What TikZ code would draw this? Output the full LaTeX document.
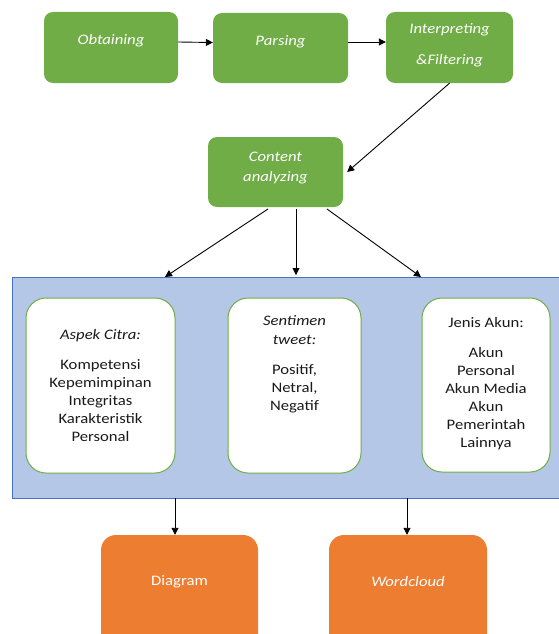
\documentclass[tikz,border=0pt]{standalone}
\usepackage{fontspec}
\setmainfont{Carlito}[FakeStretch=1.15]
\usetikzlibrary{arrows.meta}
\definecolor{gfill}{HTML}{70AD47}
\definecolor{bfill}{HTML}{B4C7E7}
\definecolor{bline}{HTML}{4472C4}
\definecolor{ofill}{HTML}{ED7D31}
\definecolor{txt}{HTML}{1A1A1A}
\tikzset{
  greenbox/.style={fill=gfill, draw=none, rounded corners=9pt, inner sep=0pt},
  orangebox/.style={fill=ofill, draw=none, rounded corners=15pt, inner sep=0pt},
  whitebox/.style={fill=white, draw=gfill, line width=1pt, rounded corners=20pt, inner sep=0pt},
  panel/.style={fill=bfill, draw=bline, line width=1pt, inner sep=0pt},
  gtext/.style={text=white, font=\fontsize{14.5}{18}\selectfont\itshape, align=center, inner sep=0pt},
  otext/.style={text=white, font=\fontsize{14.5}{18}\selectfont, align=center, inner sep=0pt},
  ttext/.style={text=txt, font=\fontsize{14.5}{18}\selectfont\itshape, align=center, inner sep=0pt},
  ltext/.style={text=txt, font=\fontsize{14.5}{18}\selectfont, align=center, inner sep=0pt},
  arr/.style={draw=black, line width=0.9pt, -{Triangle[length=7pt,width=7pt]}}
}
\begin{document}
\begin{tikzpicture}[x=1pt,y=-1pt]
\useasboundingbox (0,0) rectangle (558,634);
% top row
\node[greenbox, minimum width=134pt, minimum height=71pt] (obt) at (111,47.5) {};
\node[greenbox, minimum width=135pt, minimum height=70pt] (par) at (280.5,48) {};
\node[greenbox, minimum width=127pt, minimum height=71pt] (int) at (449.5,47.5) {};
\node[greenbox, minimum width=135pt, minimum height=70pt] (con) at (275.5,172) {};
\node[gtext] (tobt) at (111,41) {Obtaining};
\node[gtext] (tpar) at (280.5,42) {Parsing};
\node[gtext] (tint1) at (449.5,30) {Interpreting};
\node[gtext] (tint2) at (449.5,61) {\&Filtering};
\node[gtext] (tcon1) at (275.5,157) {Content};
\node[gtext] (tcon2) at (275.5,178) {analyzing};
% panel
\node[panel, minimum width=560pt, minimum height=221pt] (pan) at (292,387.5) {};
\node[whitebox, minimum width=149pt, minimum height=175pt] (b1) at (100.5,385.5) {};
\node[whitebox, minimum width=133pt, minimum height=175pt] (b2) at (294.5,385.5) {};
\node[whitebox, minimum width=128pt, minimum height=174pt] (b3) at (486,385) {};
\node[ttext] (t1) at (100.5,336) {Aspek Citra:};
\node[ltext] (l1) at (100.5,401) {Kompetensi\\Kepemimpinan\\Integritas\\Karakteristik\\Personal};
\node[ttext] (t2) at (294.5,330.5) {Sentimen\\[1pt]tweet:};
\node[ltext] (l2) at (294.5,389) {Positif,\\Netral,\\Negatif};
\node[ltext] (t3) at (486,323) {Jenis Akun:};
\node[ltext] (l3) at (486,399) {Akun\\Personal\\Akun Media\\Akun\\Pemerintah\\Lainnya};
% outputs
\node[orangebox, minimum width=157pt, minimum height=125pt] (dia) at (179.5,597.5) {};
\node[orangebox, minimum width=158pt, minimum height=125pt] (wc) at (408,597.5) {};
\node[otext] (tdia) at (179.5,582) {Diagram};
\node[gtext] (twc) at (408,582) {Wordcloud};
% coordinates for connector ends
\coordinate (c1s) at (268,209);
\coordinate (c2s) at (296,209);
\coordinate (c3s) at (327,209);
\coordinate (c1e) at (165,277);
\coordinate (c2e) at (296,275);
\coordinate (c3e) at (421,277);
\coordinate (pd) at (175,498);
\coordinate (pw) at (407,498);
% connectors
\draw[arr] ([yshift=5.5pt]obt.east) -- ([yshift=5.5pt]par.west);
\draw[arr] ([yshift=6pt]par.east) -- ([yshift=5.5pt]int.west);
\draw[arr] (int.south) -- ([xshift=4pt]con.east);
\draw[arr] (c1s) -- (c1e);
\draw[arr] (c2s) -- (c2e);
\draw[arr] (c3s) -- (c3e);
\draw[arr] (pd) -- (pd |- dia.north);
\draw[arr] (pw) -- (pw |- wc.north);
\end{tikzpicture}
\end{document}
